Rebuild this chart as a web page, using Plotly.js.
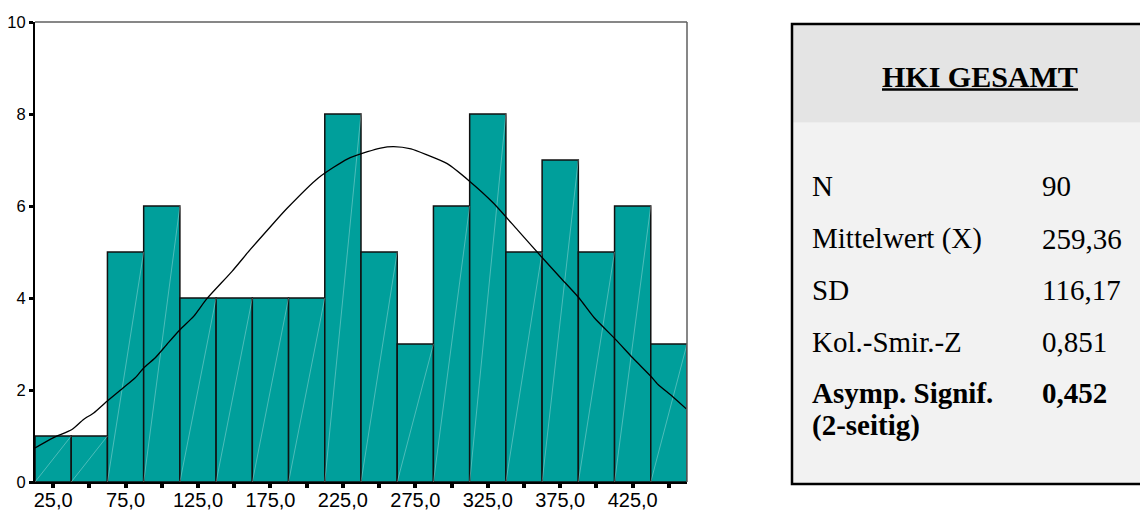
<!DOCTYPE html>
<html>
<head>
<meta charset="utf-8">
<script src="https://cdn.plot.ly/plotly-3.0.1.min.js"></script>
<style>
html,body{margin:0;padding:0;background:#fff;}
#chart{width:1140px;height:510px;}
</style>
</head>
<body>
<div id="chart"></div>
<script>
// ---- data ----
const binCenters = [25, 50, 75, 100, 125, 150, 175, 200, 225, 250, 275, 300, 325, 350, 375, 400, 425, 450];
const counts     = [1, 1, 5, 6, 4, 4, 4, 4, 8, 5, 3, 6, 8, 5, 7, 5, 6, 3];
const binWidth = 25;

const curveX = [12.5, 25, 38, 46, 53, 62, 73.5, 81.5, 87.5, 95.5, 103.5, 112.5, 122, 131, 148.5, 161, 175, 186.5, 208, 228, 242, 251, 260, 272, 283, 297, 312, 329, 345.5, 362.5, 375.5, 388, 398.5, 413.5, 425, 437.5, 442.5, 452.5, 462];
const curveY = [0.74, 0.96, 1.14, 1.36, 1.50, 1.75, 2.05, 2.26, 2.48, 2.70, 2.99, 3.31, 3.60, 3.98, 4.58, 5.05, 5.55, 5.95, 6.61, 7.02, 7.18, 7.26, 7.29, 7.24, 7.11, 6.92, 6.55, 6.06, 5.48, 4.88, 4.43, 4.00, 3.57, 3.09, 2.70, 2.30, 2.12, 1.86, 1.59];

const xTickVals = [25, 50, 75, 100, 125, 150, 175, 200, 225, 250, 275, 300, 325, 350, 375, 400, 425, 450];
const xTickText = ['25,0', '', '75,0', '', '125,0', '', '175,0', '', '225,0', '', '275,0', '', '325,0', '', '375,0', '', '425,0', ''];
const yTickVals = [0, 2, 4, 6, 8, 10];

const tableTitle = 'HKI GESAMT';
const tableLabels = ['N', 'Mittelwert (X)', 'SD', 'Kol.-Smir.-Z', 'Asymp. Signif.'];
const tableValues = ['90', '259,36', '116,17', '0,851', '0,452'];
const tableNote = '(2-seitig)';

// ---- layout helpers (pixel -> paper) ----
const W = 1140, H = 510;
const L = 35, T = 22, PW = 652, PH = 460;
const R = W - L - PW, B = H - T - PH;
const pxX = x => (x - L) / PW;
const pxY = y => (T + PH - y) / PH;

// faint diagonal sheen line inside each bar, derived from the bar data
const sheenX = [], sheenY = [];
binCenters.forEach((c, i) => {
  sheenX.push(c - binWidth / 2, c + binWidth / 2, null);
  sheenY.push(0, counts[i], null);
});

const traces = [
  {
    type: 'bar', x: binCenters, y: counts, width: binWidth,
    marker: {color: '#009f9b', line: {color: '#111', width: 1.5}},
    hoverinfo: 'skip'
  },
  {
    type: 'scatter', mode: 'lines', x: sheenX, y: sheenY,
    line: {color: 'rgba(255,255,255,0.3)', width: 1},
    hoverinfo: 'skip', connectgaps: false
  },
  {
    type: 'scatter', mode: 'lines', x: curveX, y: curveY,
    line: {color: '#000', width: 1.3, shape: 'spline', smoothing: 0.6},
    hoverinfo: 'skip'
  }
];

const serif = 'Liberation Serif, Times New Roman, serif';
const sans = 'Liberation Sans, Arial, sans-serif';
const bodySize = 29;

const rowBaselines = [195, 248, 299, 351, 402.7];
const labelX = 810, valueX = 1040;

const annotations = [];
annotations.push({
  xref: 'paper', yref: 'paper', x: pxX(980), y: pxY(85.7 - 0.32 * 30),
  xanchor: 'center', yanchor: 'middle', showarrow: false,
  text: '<b>' + tableTitle + '</b>',
  font: {family: serif, size: 30, color: '#000'}
});
tableLabels.forEach((lab, i) => {
  const bold = i === tableLabels.length - 1;
  const yb = rowBaselines[i] - 0.32 * bodySize;
  annotations.push({
    xref: 'paper', yref: 'paper', x: pxX(labelX), y: pxY(yb),
    xanchor: 'left', yanchor: 'middle', showarrow: false,
    text: bold ? '<b>' + lab + '</b>' : lab,
    font: {family: serif, size: bodySize, color: '#000'}
  });
  annotations.push({
    xref: 'paper', yref: 'paper', x: pxX(valueX), y: pxY(yb),
    xanchor: 'left', yanchor: 'middle', showarrow: false,
    text: bold ? '<b>' + tableValues[i] + '</b>' : tableValues[i],
    font: {family: serif, size: bodySize, color: '#000'}
  });
});
annotations.push({
  xref: 'paper', yref: 'paper', x: pxX(labelX), y: pxY(435 - 0.32 * bodySize),
  xanchor: 'left', yanchor: 'middle', showarrow: false,
  text: '<b>' + tableNote + '</b>',
  font: {family: serif, size: bodySize, color: '#000'}
});

const shapes = [
  {type: 'line', xref: 'paper', yref: 'paper', x0: 0, x1: 1, y0: 1, y1: 1, line: {color: '#5f5f5f', width: 1.5}, layer: 'above'},
  {type: 'line', xref: 'paper', yref: 'paper', x0: 1, x1: 1, y0: 0, y1: 1, line: {color: '#5f5f5f', width: 1.5}, layer: 'above'},
  {type: 'rect', xref: 'paper', yref: 'paper', x0: pxX(792), x1: pxX(1180), y0: pxY(122.7), y1: pxY(24), fillcolor: '#e4e4e4', line: {width: 0}, layer: 'above'},
  {type: 'rect', xref: 'paper', yref: 'paper', x0: pxX(792), x1: pxX(1180), y0: pxY(484), y1: pxY(122.7), fillcolor: '#f2f2f2', line: {width: 0}, layer: 'above'},
  {type: 'rect', xref: 'paper', yref: 'paper', x0: pxX(792), x1: pxX(1180), y0: pxY(484), y1: pxY(24), fillcolor: 'rgba(0,0,0,0)', line: {color: '#000', width: 2.5}, layer: 'above'},
  {type: 'line', xref: 'paper', yref: 'paper', x0: pxX(882), x1: pxX(1078), y0: pxY(89.5), y1: pxY(89.5), line: {color: '#000', width: 2.5}, layer: 'above'}
];

const layout = {
  width: W, height: H,
  margin: {l: L, r: R, t: T, b: B, pad: 0},
  paper_bgcolor: '#fff', plot_bgcolor: '#fff',
  showlegend: false,
  bargap: 0,
  xaxis: {
    range: [12.5, 462.5], fixedrange: true,
    showgrid: false, zeroline: false,
    showline: true, linecolor: '#000', linewidth: 2,
    ticks: 'outside', ticklen: 4, tickwidth: 4, tickcolor: '#000',
    tickvals: xTickVals, ticktext: xTickText,
    tickfont: {family: sans, size: 20, color: '#000'},
    ticklabelstandoff: -5
  },
  yaxis: {
    range: [0, 10], fixedrange: true,
    showgrid: false, zeroline: false,
    showline: true, linecolor: '#000', linewidth: 2,
    ticks: 'outside', ticklen: 4, tickwidth: 3, tickcolor: '#000',
    tickvals: yTickVals, ticktext: yTickVals.map(String),
    tickfont: {family: sans, size: 16.5, color: '#000'},
    ticklabelstandoff: 0
  },
  shapes: shapes,
  annotations: annotations
};

Plotly.newPlot('chart', traces, layout, {staticPlot: true, displayModeBar: false});
</script>
</body>
</html>
